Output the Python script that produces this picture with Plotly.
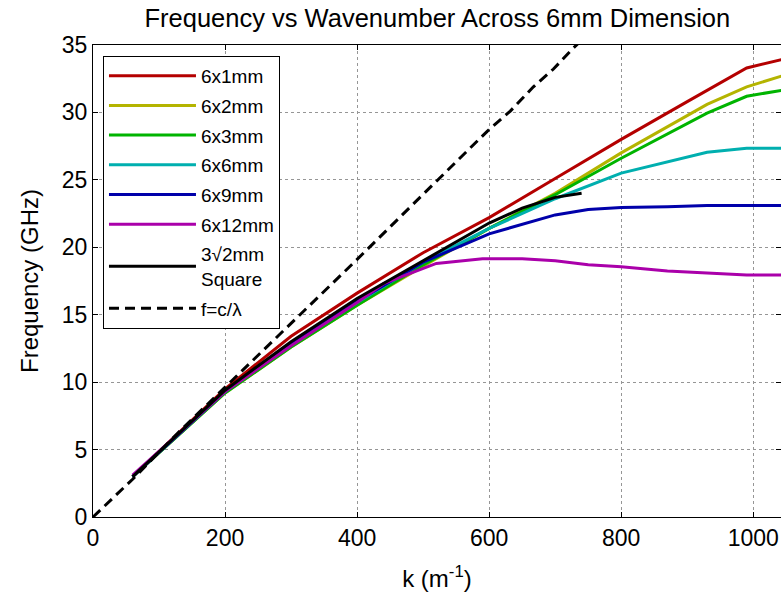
import plotly.graph_objects as go

# ---- data ----
k_6x1 = [60, 200, 300, 400, 500, 600, 700, 800, 900, 990, 1050]
f_6x1 = [3.0, 9.5, 13.4, 16.6, 19.6, 22.2, 25.1, 28.0, 30.8, 33.3, 34.0]

k_6x2 = [60, 200, 300, 400, 500, 600, 700, 800, 930, 990, 1050]
f_6x2 = [3.0, 9.2, 12.6, 15.7, 18.6, 21.4, 24.0, 27.0, 30.6, 31.9, 32.8]

k_6x3 = [60, 200, 300, 400, 500, 600, 700, 800, 930, 990, 1050]
f_6x3 = [3.0, 9.2, 12.6, 15.7, 18.7, 21.4, 23.9, 26.6, 29.95, 31.2, 31.7]

k_6x6 = [60, 200, 300, 400, 500, 600, 700, 800, 930, 990, 1050]
f_6x6 = [3.0, 9.3, 12.8, 15.9, 18.9, 21.4, 23.6, 25.5, 27.05, 27.35, 27.35]

k_6x9 = [60, 200, 300, 400, 500, 600, 700, 750, 800, 870, 930, 990, 1050]
f_6x9 = [3.0, 9.3, 12.8, 16.0, 18.9, 21.0, 22.4, 22.8, 22.95, 23.0, 23.1, 23.1, 23.1]

k_6x12 = [60, 200, 300, 400, 440, 520, 590, 650, 700, 750, 800, 870, 930, 990, 1050]
f_6x12 = [3.1, 9.3, 12.7, 15.9, 17.3, 18.8, 19.15, 19.15, 19.0, 18.7, 18.55, 18.25, 18.1, 17.95, 17.95]

k_sq = [60, 200, 300, 400, 500, 600, 650, 700, 740]
f_sq = [3.0, 9.4, 13.0, 16.2, 19.0, 21.8, 22.9, 23.7, 24.0]

k_light = [0, 60, 130, 200, 270, 340, 400, 460, 523, 597, 632, 667, 697, 726, 800]
f_light = [0, 2.8, 6.3, 9.6, 12.9, 16.2, 19.1, 22.0, 25.0, 28.6, 30.1, 31.9, 33.2, 34.7, 38.2]

x_ticks = [0, 200, 400, 600, 800, 1000]
y_ticks = [0, 5, 10, 15, 20, 25, 30, 35]

series = [
    ("6x1mm", k_6x1, f_6x1, "rgb(180,0,0)", "solid"),
    ("6x2mm", k_6x2, f_6x2, "rgb(180,180,0)", "solid"),
    ("6x3mm", k_6x3, f_6x3, "rgb(0,180,0)", "solid"),
    ("6x6mm", k_6x6, f_6x6, "rgb(0,175,175)", "solid"),
    ("6x9mm", k_6x9, f_6x9, "rgb(0,0,170)", "solid"),
    ("6x12mm", k_6x12, f_6x12, "rgb(170,0,170)", "solid"),
    ("3√2mm<br>Square", k_sq, f_sq, "black", "solid"),
    ("f=c/λ", k_light, f_light, "black", "10px,6px"),
]

FONT = "Liberation Sans, Arial, Helvetica, sans-serif"

fig = go.Figure()
for i, (name, xs, ys, col, dash) in enumerate(series):
    fig.add_trace(go.Scatter(x=xs, y=ys, mode="lines", name=name,
                             legendgroup="g%d" % i,
                             line=dict(color=col, width=3, dash=dash)))

axis_common = dict(
    showline=True, linecolor="black", linewidth=1, mirror="ticks",
    ticks="inside", ticklen=5, tickcolor="black",
    showgrid=True, gridcolor="rgb(150,150,150)", griddash="dot", gridwidth=1,
    zeroline=False, tickfont=dict(family=FONT, size=23, color="black"),
)

fig.update_layout(
    width=781, height=598,
    margin=dict(l=93, r=0, t=45, b=81),
    paper_bgcolor="white", plot_bgcolor="white",
    title=dict(text="Frequency vs Wavenumber Across 6mm Dimension",
               x=0.56, xanchor="center", y=0.970, yanchor="middle",
               font=dict(family=FONT, size=25.5, color="black")),
    xaxis=dict(range=[0, 1042], tickvals=x_ticks,
               title=dict(text="k (m<sup>-1</sup>)", standoff=20,
                          font=dict(family=FONT, size=24, color="black")),
               **axis_common),
    yaxis=dict(range=[0, 35], tickvals=y_ticks,
               title=dict(text="Frequency (GHz)", standoff=16,
                          font=dict(family=FONT, size=24, color="black")),
               **axis_common),
    legend=dict(x=0.0145, y=0.977, xanchor="left", yanchor="top",
                bgcolor="white", bordercolor="black", borderwidth=1,
                font=dict(family=FONT, size=19, color="black"),
                itemwidth=87, tracegroupgap=2),
    showlegend=True,
)

fig.write_html("out.html")
